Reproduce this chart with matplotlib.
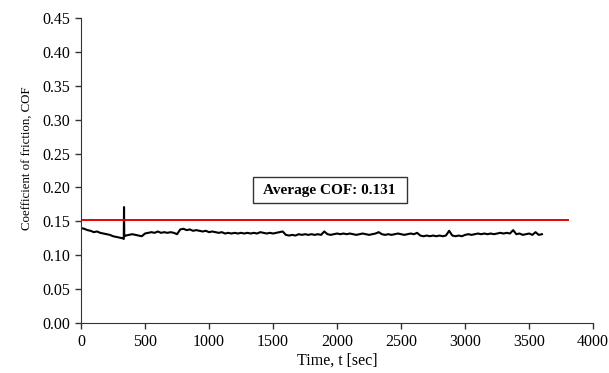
import numpy as np
import matplotlib
matplotlib.use('Agg')
import matplotlib.pyplot as plt

plt.rcParams['font.family'] = ['Liberation Serif', 'DejaVu Serif']

# -------------------- Data --------------------
time_grid = np.arange(0, 3601, 25)
cof_grid = [
    0.140, 0.139, 0.137, 0.136,
    0.134, 0.135, 0.133, 0.132,
    0.131, 0.130, 0.128, 0.127,
    0.126, 0.125, 0.129, 0.130,
    0.131, 0.130, 0.129, 0.128,
    0.132, 0.133, 0.134, 0.133,
    0.135, 0.133, 0.134, 0.133,
    0.134, 0.133, 0.131, 0.138,
    0.139, 0.137, 0.138, 0.136,
    0.137, 0.136, 0.135, 0.136,
    0.134, 0.135, 0.134, 0.133,
    0.134, 0.132, 0.133, 0.132,
    0.133, 0.132, 0.133, 0.132,
    0.133, 0.132, 0.133, 0.132,
    0.134, 0.133, 0.132, 0.133,
    0.132, 0.133, 0.134, 0.135,
    0.130, 0.129, 0.130, 0.129,
    0.131, 0.130, 0.131, 0.130,
    0.131, 0.130, 0.131, 0.130,
    0.135, 0.131, 0.130, 0.131,
    0.132, 0.131, 0.132, 0.131,
    0.132, 0.131, 0.130, 0.131,
    0.132, 0.131, 0.130, 0.131,
    0.132, 0.134, 0.131, 0.130,
    0.131, 0.130, 0.131, 0.132,
    0.131, 0.130, 0.131, 0.132,
    0.131, 0.133, 0.129, 0.128,
    0.129, 0.128, 0.129, 0.128,
    0.129, 0.128, 0.129, 0.136,
    0.129, 0.128, 0.129, 0.128,
    0.130, 0.131, 0.130, 0.131,
    0.132, 0.131, 0.132, 0.131,
    0.132, 0.131, 0.132, 0.133,
    0.132, 0.133, 0.132, 0.137,
    0.131, 0.132, 0.130, 0.131,
    0.132, 0.130, 0.134, 0.130,
    0.131,
]

# short spike near t = 336 s
spike_t = [334, 336, 338]
spike_cof = [0.124, 0.171, 0.128]

avg_line_t = [0, 3800]
avg_line_cof = [0.152, 0.152]
avg_label = 'Average COF: 0.131'

t = np.concatenate([time_grid, spike_t])
cof = np.concatenate([cof_grid, spike_cof])
order = np.argsort(t, kind='stable')
t, cof = t[order], cof[order]

# -------------------- Plot --------------------
fig = plt.figure(figsize=(6.09, 3.73), dpi=100)
ax = fig.add_axes([0.133, 0.134, 0.841, 0.818])

ax.plot(t, cof, color='black', lw=1.5)
ax.plot(avg_line_t, avg_line_cof, color='#ee0000', lw=1.4)

ax.text(1945, 0.196, ' ' + avg_label + ' ', ha='center', va='center', fontsize=11,
        fontweight='bold',
        bbox=dict(boxstyle='square,pad=0.45', fc='white', ec='#333333', lw=1))

ax.set_xlim(0, 4000)
ax.set_ylim(0, 0.45)
ax.set_xticks(np.arange(0, 4001, 500))
ax.set_yticks(np.arange(0, 0.451, 0.05))
ax.yaxis.set_major_formatter(matplotlib.ticker.FormatStrFormatter('%.2f'))
ax.tick_params(direction='out', length=4, width=1, labelsize=11.5, colors='#333333',
               labelcolor='black', pad=4)
for side in ['top', 'right']:
    ax.spines[side].set_visible(False)
for side in ['left', 'bottom']:
    ax.spines[side].set_color('#333333')

ax.set_xlabel('Time, t [sec]', fontsize=11.5, labelpad=2)
ax.set_ylabel('Coefficient of friction, COF', fontsize=9.3)
ax.yaxis.set_label_coords(-0.092, 0.54)

fig.savefig('out.png', dpi=100)
